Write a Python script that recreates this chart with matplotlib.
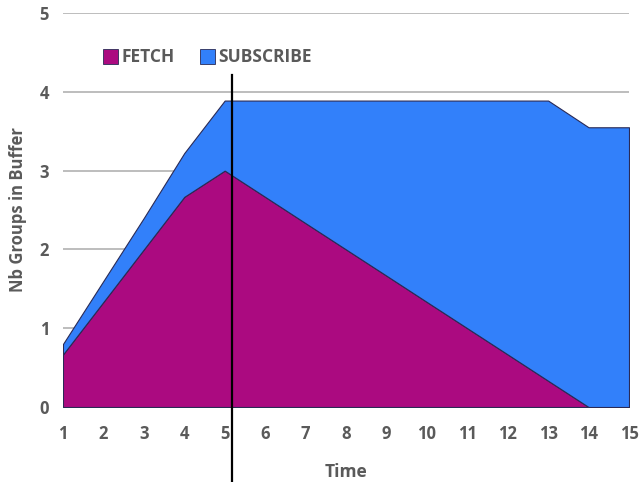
import matplotlib.pyplot as plt
from matplotlib.patches import Patch

# data (stacked areas)
time = list(range(1, 16))
fetch = [0.667, 1.333, 2.0, 2.667, 3.0, 2.667, 2.333, 2.0, 1.667, 1.333, 1.0, 0.667, 0.333, 0.0, 0.0]
subscribe = [0.133, 0.267, 0.4, 0.556, 0.889, 1.222, 1.556, 1.889, 2.222, 2.556, 2.889, 3.222, 3.556, 3.55, 3.55]
marker_x = 5.19

fetch_color = '#ab0a80'
sub_color = '#3280fa'
edge = '#2a2a55'
text_color = '#5a5a5a'

plt.rcParams['font.family'] = ['Open Sans', 'DejaVu Sans']

fig = plt.figure(figsize=(6.4, 4.82), dpi=100)
ax = fig.add_axes([0.0984, 0.1556, 0.8844, 0.8174])

ax.stackplot(time, fetch, subscribe, colors=[fetch_color, sub_color],
             edgecolor=edge, linewidth=0.8, zorder=2)

# vertical marker line, runs below the axis
ax.plot([marker_x, marker_x], [4.21, -0.97], color='black', lw=1.6,
        clip_on=False, zorder=5)

ax.set_xlim(1, 15)
ax.set_ylim(0, 5)
ax.set_xticks(time)
ax.set_yticks(range(0, 6))
ax.grid(axis='y', color='#bdbdbd', lw=1.4, zorder=0)
ax.set_axisbelow(True)
for s in ax.spines.values():
    s.set_visible(False)
ax.tick_params(length=0, labelsize=12, labelcolor=text_color, pad=13)
ax.tick_params(axis='y', pad=10)
for lab in ax.get_xticklabels() + ax.get_yticklabels():
    lab.set_fontweight('bold')

ax.set_xlabel('Time', fontsize=12.5, fontweight='bold', color=text_color, labelpad=14)
ax.set_ylabel('Nb Groups in Buffer', fontsize=12, fontweight='bold', color=text_color, labelpad=9)

handles = [Patch(facecolor=fetch_color, edgecolor=edge, lw=0.6, label='FETCH'),
           Patch(facecolor=sub_color, edgecolor=edge, lw=0.6, label='SUBSCRIBE')]
leg = ax.legend(handles=handles, loc='upper left', bbox_to_anchor=(0.043, 0.95),
                ncol=2, frameon=False, handlelength=0.85, handleheight=0.9,
                handletextpad=0.2, columnspacing=1.5,
                prop={'weight': 'bold', 'size': 12.5})
for t in leg.get_texts():
    t.set_color(text_color)

fig.savefig('out.png', dpi=100)
